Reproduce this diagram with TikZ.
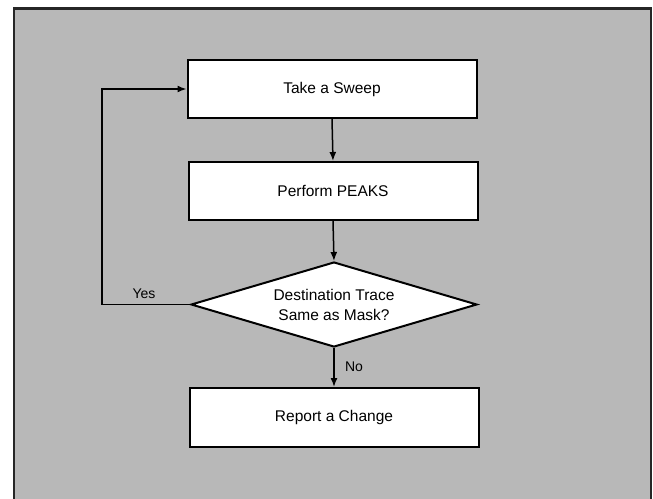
\documentclass[tikz,border=0pt]{standalone}
\usepackage{fontspec}
\setmainfont{Liberation Sans}
\usetikzlibrary{shapes.geometric,arrows.meta}
\begin{document}
\begin{tikzpicture}[x=1pt,y=-1pt,
  procbox/.style={draw=black,line width=2pt,fill=white,minimum width=289pt,minimum height=58pt,inner sep=0pt,font=\fontsize{15.5}{18}\selectfont},
  decbox/.style={diamond,draw=black,line width=2pt,fill=white,minimum width=286pt,minimum height=85pt,inner sep=0pt,aspect=3.4,align=center,font=\fontsize{15.5}{20}\selectfont},
  flow/.style={line width=1.5pt,-{Latex[length=9pt,width=7pt]}},
  lbl/.style={font=\fontsize{14}{16}\selectfont,inner sep=1pt}]
\useasboundingbox (0,0) rectangle (653,498);
\fill[white] (0,0) rectangle (653,498);
\draw[fill=black!28,draw=black!85,line width=2.5pt] (14,8.5) rectangle (651,505);
\node[procbox] (sweep) at (332,89) {Take a Sweep};
\node[procbox] (peaks) at (333,191) {Perform PEAKS};
\node[decbox] (dec) at (334,304.5) {Destination Trace\\Same as Mask?};
\node[procbox,minimum height=59pt] (report) at (334,417.5) {Report a Change};
\coordinate (lb) at (102,304.5);
\coordinate (lt) at (102,89);
\draw[flow] (sweep.south) -- (peaks.north);
\draw[flow] (peaks.south) -- (dec.north);
\draw[flow] (dec.south) -- (report.north);
\draw[flow] (dec.west) -- (lb) -- (lt) -- (sweep.west);
\node[lbl] (yes) at (144,294) {Yes};
\node[lbl] (no) at (354,367) {No};
\end{tikzpicture}
\end{document}
